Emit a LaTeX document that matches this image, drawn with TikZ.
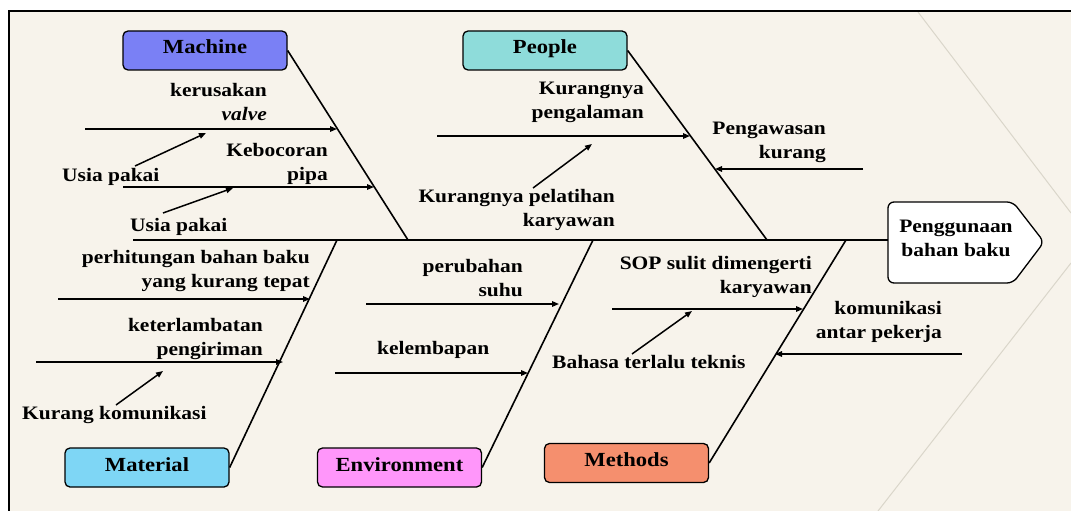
\documentclass[tikz,border=0pt]{standalone}
\usepackage{fontspec}
\setmainfont{Liberation Serif}[FakeStretch=1.13]
\usetikzlibrary{arrows.meta}
\definecolor{paper}{RGB}{247,243,235}
\definecolor{faint}{RGB}{218,214,202}
\definecolor{machinec}{RGB}{122,128,245}
\definecolor{peoplec}{RGB}{142,220,218}
\definecolor{materialc}{RGB}{126,214,245}
\definecolor{envc}{RGB}{255,150,250}
\definecolor{methodc}{RGB}{245,143,110}
\tikzset{
  cat/.style={rectangle, rounded corners=5pt, draw, line width=1.3pt,
    minimum width=164pt, minimum height=39pt, inner sep=0pt,
    text height=13pt, text depth=6pt,
    font=\bfseries\fontsize{20}{24}\selectfont},
  lbl/.style={inner sep=0pt, align=right, font=\bfseries\fontsize{19}{24}\selectfont},
  bone/.style={line width=1.6pt},
  cause/.style={line width=1.5pt, -{Triangle[length=7pt,width=5.5pt]}},
}
\begin{document}
\begin{tikzpicture}[x=1pt,y=-1pt]
  \useasboundingbox (0,0) rectangle (1071,511);
  \fill[white] (0,0) rectangle (1071,511);
  \fill[paper] (9,11) rectangle (1071,511);
  \draw[faint, line width=1pt] (918,12) -- (1071,213);
  \draw[faint, line width=1pt] (1071,263) -- (878,511);
  \draw[line width=2.7pt] (9,511) -- (9,11) -- (1071,11);

  % head and spine
  \draw[fill=white, line width=1.3pt, rounded corners=6pt]
    (888,202) -- (1013,202) -- (1044,242) -- (1013,283) -- (888,283) -- cycle;
  \node (effect) at (956,220) [lbl, align=center, anchor=north] {Penggunaan\\bahan baku};
  \coordinate (tail) at (133,240); \coordinate (head) at (888,240);
  \draw[bone] (tail) -- (head);

  % categories
  \node (machine) at (205,50.5) [cat, fill=machinec] {Machine};
  \node (people) at (545,50.5) [cat, fill=peoplec] {People};
  \node (material) at (147,467.5) [cat, fill=materialc] {Material};
  \node (environment) at (399.5,467.5) [cat, fill=envc] {Environment};
  \node (methods) at (626.5,463) [cat, fill=methodc] {Methods};
  \coordinate (mb) at (408,240); \coordinate (pb) at (767,240);
  \coordinate (matb) at (337,240); \coordinate (eb) at (593,240);
  \coordinate (meb) at (846,240);
  \draw[bone] (machine.east) -- (mb); \draw[bone] (people.east) -- (pb);
  \draw[bone] (material.east) -- (matb); \draw[bone] (environment.east) -- (eb);
  \draw[bone] (methods.east) -- (meb);

  % machine
  \node (valve) at (267,83) [lbl, anchor=north east] {kerusakan\\\textit{valve}};
  \node (pipa) at (328,143) [lbl, anchor=north east] {Kebocoran\\pipa};
  \node (usia1) at (62,181) [lbl, anchor=base west] {Usia pakai};
  \node (usia2) at (130,231) [lbl, anchor=base west] {Usia pakai};
  \coordinate (v1) at (85,129); \coordinate (v2) at (337,129);
  \coordinate (p1) at (123,187); \coordinate (p2) at (374,187);
  \coordinate (u1) at (135,166); \coordinate (u2) at (206,133);
  \coordinate (u3) at (163,213); \coordinate (u4) at (233,188);
  \draw[cause] (v1) -- (v2); \draw[cause] (p1) -- (p2);
  \draw[cause] (u1) -- (u2); \draw[cause] (u3) -- (u4);

  % people
  \node (alaman) at (644,82) [lbl, anchor=north east] {Kurangnya\\pengalaman};
  \node (latih) at (615,189) [lbl, anchor=north east] {Kurangnya pelatihan\\karyawan};
  \node (awas) at (826,122) [lbl, anchor=north east] {Pengawasan\\kurang};
  \coordinate (k1) at (437,136); \coordinate (k2) at (690,136);
  \coordinate (l1) at (533,188); \coordinate (l2) at (592,144);
  \coordinate (a1) at (863,169); \coordinate (a2) at (715,169);
  \draw[cause] (k1) -- (k2); \draw[cause] (l1) -- (l2); \draw[cause] (a1) -- (a2);

  % material
  \node (hitung) at (310,250) [lbl, anchor=north east] {perhitungan bahan baku\\yang kurang tepat};
  \node (lambat) at (263,318) [lbl, anchor=north east] {keterlambatan\\pengiriman};
  \node (komu) at (22,419) [lbl, anchor=base west] {Kurang komunikasi};
  \coordinate (h1) at (58,299); \coordinate (h2) at (310,299);
  \coordinate (t1) at (36,362); \coordinate (t2) at (283,362);
  \coordinate (c1) at (116,405); \coordinate (c2) at (163,371);
  \draw[cause] (h1) -- (h2); \draw[cause] (t1) -- (t2); \draw[cause] (c1) -- (c2);

  % environment
  \node (suhu) at (523,259) [lbl, anchor=north east] {perubahan\\suhu};
  \node (lembap) at (377,354) [lbl, anchor=base west] {kelembapan};
  \coordinate (s1) at (366,304); \coordinate (s2) at (559,304);
  \coordinate (e1) at (335,373); \coordinate (e2) at (528,373);
  \draw[cause] (s1) -- (s2); \draw[cause] (e1) -- (e2);

  % methods
  \node (sop) at (812,256) [lbl, anchor=north east] {SOP sulit dimengerti\\karyawan};
  \node (bahasa) at (552,368) [lbl, anchor=base west] {Bahasa terlalu teknis};
  \node (antar) at (942,301) [lbl, anchor=north east] {komunikasi\\antar pekerja};
  \coordinate (o1) at (612,309); \coordinate (o2) at (803,309);
  \coordinate (b1) at (632,354); \coordinate (b2) at (692,311);
  \coordinate (r1) at (962,354); \coordinate (r2) at (775,354);
  \draw[cause] (o1) -- (o2); \draw[cause] (b1) -- (b2); \draw[cause] (r1) -- (r2);
\end{tikzpicture}
\end{document}
